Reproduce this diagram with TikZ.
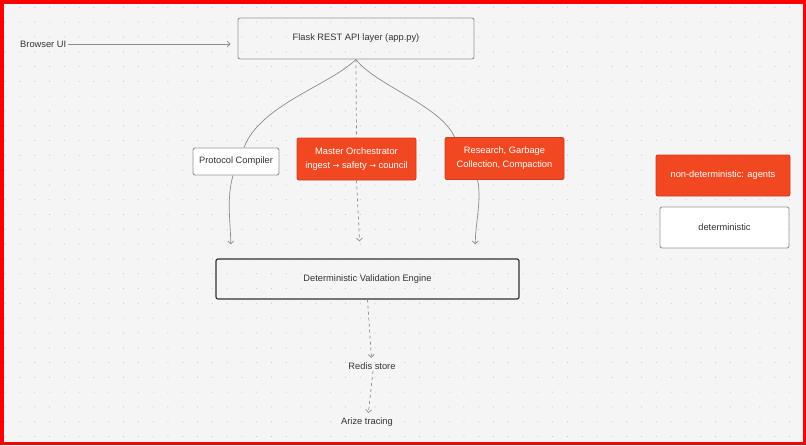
\documentclass[tikz,border=0pt]{standalone}
\usepackage{fontspec}
\setmainfont{Liberation Sans}
\newfontfamily\fleche{DejaVu Sans}
\usetikzlibrary{arrows.meta}

\definecolor{fond}{HTML}{F5F5F5}
\definecolor{point}{HTML}{C9C9C9}
\definecolor{trait}{HTML}{8C8C8C}
\definecolor{texte}{HTML}{333333}
\definecolor{agent}{HTML}{F24822}

\newcommand{\fl}{{\fleche\fontsize{8}{14}\selectfont →}}

\tikzset{
  box/.style={draw=trait!90, line width=0.9pt, rounded corners=2pt, text=texte,
    inner sep=0pt, align=center, font=\fontsize{9.3}{14}\selectfont},
  agentbox/.style={box, draw=agent!85!black, fill=agent, text=white},
  detbox/.style={box, fill=white},
  label/.style={text=texte, inner sep=1.5pt, font=\fontsize{9.3}{14}\selectfont},
  link/.style={draw=trait, line width=0.7pt},
}

\begin{document}
\begin{tikzpicture}[x=1pt, y=-1pt, >={Straight Barb[length=3pt,width=6pt]}]

% Paramètres
\def\pas{14.8}
\def\ox{5.1}
\def\oy{7.3}

% Fond et grille
\useasboundingbox (0,0) rectangle (806,445);
\fill[fond] (0,0) rectangle (806,445);
\foreach \i in {0,...,54}
  \foreach \j in {0,...,29}
    \fill[point] (\ox+\pas*\i, \oy+\pas*\j) circle (0.6);

% Noeuds
\node[label, anchor=west] (browser) at (18.5,44) {Browser UI};
\node[box, minimum width=236, minimum height=41] (flask) at (356,38.5)
  {Flask REST API layer (app.py)};
\node[detbox, minimum width=86, minimum height=27] (pc) at (236,161.5)
  {Protocol Compiler};
\node[agentbox, minimum width=119, minimum height=42] (orch) at (356.5,159)
  {Master Orchestrator\\ingest \fl{} safety \fl{} council};
\node[agentbox, minimum width=119, minimum height=42] (res) at (504.5,158.5)
  {Research, Garbage\\Collection, Compaction};
\node[box, draw=texte, line width=1.2pt, minimum width=303, minimum height=40]
  (engine) at (367.5,279) {Deterministic Validation Engine};
\node[label] (redis) at (372,366) {Redis store};
\node[label] (arize) at (367,422) {Arize tracing};

% Légende
\node[agentbox, minimum width=134, minimum height=41] (leg1) at (723,175.5)
  {non-deterministic: agents};
\node[detbox, minimum width=129, minimum height=41] (leg2) at (724.5,227.5)
  {deterministic};

% Liens
\draw[link, ->, shorten >=7pt] (browser.east) -- (browser.east -| flask.west);

\draw[link] (flask.south) .. controls (330,85) and (260,105) .. ([xshift=8pt]pc.north);
\draw[link, ->, shorten >=14pt] ([xshift=-3pt]pc.south)
  .. controls (226,200) and (231,225) .. ([xshift=15pt]engine.north west);

\draw[link, dashed] (flask.south) -- (orch.north);
\draw[link, dashed, ->, shorten >=17pt] (orch.south) -- ([xshift=-7pt]engine.north);

\draw[link] (flask.south) .. controls (375,85) and (440,105) .. ([xshift=10pt]res.north west);
\draw[link, ->, shorten >=14pt] ([xshift=33pt]res.south west)
  .. controls (482,200) and (475,225) .. ([xshift=-44pt]engine.north east);

\draw[link, dashed, ->, shorten >=3pt] (engine.south) -- (redis);
\draw[link, dashed, ->, shorten >=3pt] ([xshift=1pt]redis.south) -- ([xshift=1pt]arize.north);

% Cadre
\draw[red, line width=3.5pt] (1.75,1.75) rectangle (804.25,443.25);

\end{tikzpicture}
\end{document}
